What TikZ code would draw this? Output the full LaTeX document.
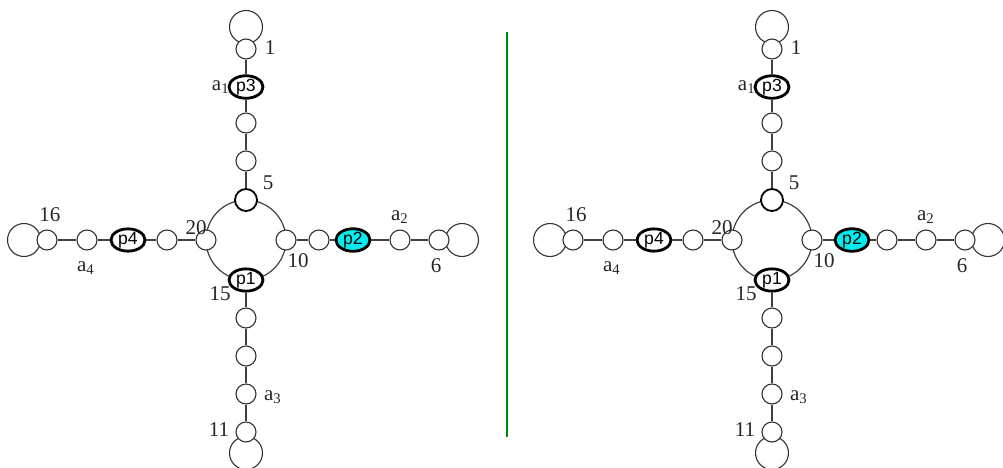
\documentclass[tikz,border=0pt]{standalone}
\usepackage{fontspec}
\setmainfont{Liberation Serif}
\newfontfamily\pfont{Liberation Sans}
\usetikzlibrary{shapes.geometric}
\definecolor{pcyan}{RGB}{0,238,238}
\tikzset{%
	vtx/.style   = {draw=black!80, circle, fill=white, inner sep=0pt, minimum size=10pt, line width=0.55pt},
	topv/.style  = {draw, circle, fill=white, inner sep=0pt, minimum size=11pt, line width=0.9pt},
	loopc/.style = {draw=black!80, circle, inner sep=0pt, minimum size=16.5pt, line width=0.55pt},
	pnode/.style = {draw, ellipse, fill=white, inner sep=0pt, minimum width=17pt, minimum height=9pt, line width=1.4pt, font=\pfont\fontsize{8.8}{9}\selectfont},
	lab/.style   = {inner sep=0pt, text=black!85, font=\fontsize{10.5}{11}\selectfont},
	edge/.style  = {draw=black!75, line width=0.6pt},
}
\begin{document}
\begin{tikzpicture}[x=0.5pt, y=-0.5pt]
	\useasboundingbox (0,0) rectangle (1003,467);
	% separator
	\coordinate (sepa) at (507,32);
	\coordinate (sepb) at (507,437);
	\draw[green!55!black, line width=1.2pt] (sepa) -- (sepb);
	\foreach \s/\dx/\pc/\pp/\fa/\fb in {L/0/319/353/r1/p2, R/526/361/326/p2/r1} {
	\begin{scope}[shift={(\dx,0)}]
		\draw[edge] (246,240) circle[radius=20pt];  % ring
		% loops
		\node[loopc] (t0\s) at (246,27) {};
		\node[loopc] (b0\s) at (246,453) {};
		\node[loopc] (l0\s) at (24,240) {};
		\node[loopc] (r0\s) at (462,240) {};
		% top arm
		\node[vtx] (t1\s) at (246,49) {};
		\node[pnode] (p3\s) at (246,87) {p3};
		\node[vtx] (t2\s) at (246,123) {};
		\node[vtx] (t3\s) at (246,161) {};
		\node[topv] (n5\s) at (246,200) {};
		% ring
		\node[vtx] (n20\s) at (206,240) {};
		\node[vtx] (n10\s) at (286,240) {};
		\node[pnode] (p1\s) at (246,280) {p1};
		% bottom arm
		\node[vtx] (b1\s) at (246,318) {};
		\node[vtx] (b2\s) at (246,356) {};
		\node[vtx] (b3\s) at (246,394) {};
		\node[vtx] (b4\s) at (246,432) {};
		% left arm
		\node[vtx] (l1\s) at (167,240) {};
		\node[pnode] (p4\s) at (128,240) {p4};
		\node[vtx] (l2\s) at (87,240) {};
		\node[vtx] (l3\s) at (47,240) {};
		% right arm
		\node[vtx] (r1\s) at (\pc,240) {};
		\node[pnode, fill=pcyan] (p2\s) at (\pp,240) {p2};
		\node[vtx] (r2\s) at (400,240) {};
		\node[vtx] (r3\s) at (439,240) {};
		\draw[edge] (t1\s) -- (p3\s) -- (t2\s) -- (t3\s) -- (n5\s);
		\draw[edge] (p1\s) -- (b1\s) -- (b2\s) -- (b3\s) -- (b4\s);
		\draw[edge] (n20\s) -- (l1\s) -- (p4\s) -- (l2\s) -- (l3\s);
		\draw[edge] (n10\s) -- (\fa\s) -- (\fb\s) -- (r2\s) -- (r3\s);
		% labels
		\node[lab] (k1\s) at (270,48) {1};
		\node[lab, anchor=east] (ka1\s) at (230,87) {a\textsubscript{1}};
		\node[lab] (k5\s) at (268,183) {5};
		\node[lab] (k20\s) at (196,228) {20};
		\node[lab] (k10\s) at (298,261) {10};
		\node[lab] (k15\s) at (220,294) {15};
		\node[lab] (k16\s) at (50,215) {16};
		\node[lab] (ka4\s) at (86,268) {a\textsubscript{4}};
		\node[lab] (ka2\s) at (400,217) {a\textsubscript{2}};
		\node[lab] (k6\s) at (436,266) {6};
		\node[lab] (ka3\s) at (273,397) {a\textsubscript{3}};
		\node[lab] (k11\s) at (219,430) {11};
	\end{scope}
	}
\end{tikzpicture}
\end{document}
